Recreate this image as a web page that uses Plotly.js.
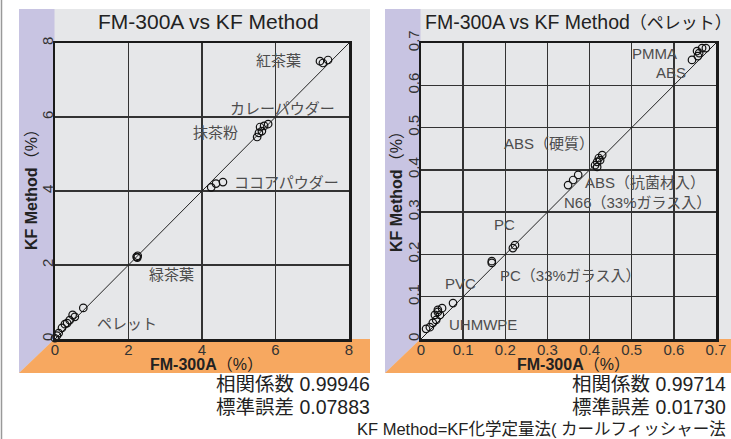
<!DOCTYPE html>
<html>
<head>
<meta charset="utf-8">
<script src="https://cdn.plot.ly/plotly-3.0.1.min.js"></script>
<style>html,body{margin:0;padding:0;background:#fff;}#chart{width:731px;height:439px;}</style>
</head>
<body>
<div id="chart"></div>
<script>
// ---- Left panel data (FM-300A vs KF Method, %) ----
const teaX    = [7.21, 7.43, 7.29];
const teaY    = [7.51, 7.54, 7.46];
const curryX  = [5.80, 5.69, 5.58, 5.63, 5.55, 5.50];
const curryY  = [5.81, 5.76, 5.73, 5.62, 5.57, 5.46];
const cocoaX  = [4.25, 4.38, 4.57];
const cocoaY  = [4.10, 4.20, 4.24];
const greenX  = [2.22, 2.25, 2.24];
const greenY  = [2.22, 2.25, 2.20];
const pelX    = [0.77, 0.54, 0.48, 0.40, 0.33, 0.27, 0.19, 0.10, 0.05, 0.00];
const pelY    = [0.84, 0.60, 0.65, 0.51, 0.43, 0.40, 0.30, 0.16, 0.09, 0.02];

// ---- Right panel data (pellets, %) ----
const pmmaX   = [0.655, 0.667, 0.676, 0.660, 0.643, 0.657];
const pmmaY   = [0.681, 0.688, 0.688, 0.676, 0.660, 0.669];
const absX    = [0.430, 0.422, 0.418, 0.413, 0.418, 0.425, 0.373, 0.361, 0.349];
const absY    = [0.435, 0.428, 0.419, 0.411, 0.407, 0.423, 0.388, 0.376, 0.364];
const pcX     = [0.223, 0.218, 0.168, 0.168];
const pcY     = [0.222, 0.215, 0.184, 0.180];
const pvcX    = [0.076];
const pvcY    = [0.085];
const lowX    = [0.040, 0.033, 0.045, 0.036, 0.028, 0.021, 0.012, 0.050, 0.040];
const lowY    = [0.064, 0.057, 0.057, 0.045, 0.038, 0.028, 0.024, 0.073, 0.069];

const leftRange  = [0, 8];
const rightRange = [0, 0.7];

// labels
const leftLabels = [
  {t:'紅茶葉', x:6.75, y:7.54, a:'right'},
  {t:'カレーパウダー', x:7.67, y:6.24, a:'right'},
  {t:'抹茶粉', x:5.03, y:5.57, a:'right'},
  {t:'ココアパウダー', x:4.82, y:4.24, a:'left'},
  {t:'緑茶葉', x:3.16, y:1.73, a:'center'},
  {t:'ペレット', x:1.96, y:0.43, a:'center'}
];
const rightLabels = [
  {t:'PMMA', x:0.612, y:0.674, a:'right'},
  {t:'ABS', x:0.634, y:0.631, a:'right'},
  {t:'ABS（硬質）', x:0.304, y:0.463, a:'center'},
  {t:'ABS（抗菌材入）', x:0.679, y:0.369, a:'right'},
  {t:'N66（33%ガラス入）', x:0.693, y:0.322, a:'right'},
  {t:'PC', x:0.199, y:0.270, a:'center'},
  {t:'PC（33%ガラス入）', x:0.183, y:0.151, a:'left'},
  {t:'PVC', x:0.093, y:0.132, a:'center'},
  {t:'UHMWPE', x:0.062, y:0.035, a:'left'}
];

const W = 731, H = 439;
const px = v => v / W;
const py = v => 1 - v / H;
const FONT = 'Liberation Sans, Arial, "Noto Sans CJK JP", sans-serif';

const mk = {symbol:'circle-open', size:7.5, color:'#111', line:{width:1.2, color:'#111'}};
function pts(x, y, xa, ya) {
  return {x:x, y:y, xaxis:xa, yaxis:ya, type:'scatter', mode:'markers', marker:mk, cliponaxis:false, hoverinfo:'skip', showlegend:false};
}
const data = [
  {x:leftRange, y:leftRange, xaxis:'x', yaxis:'y', mode:'lines', line:{color:'#222', width:1}, showlegend:false, hoverinfo:'skip'},
  {x:rightRange, y:rightRange, xaxis:'x2', yaxis:'y2', mode:'lines', line:{color:'#222', width:1}, showlegend:false, hoverinfo:'skip'},
  pts(teaX, teaY, 'x', 'y'), pts(curryX, curryY, 'x', 'y'), pts(cocoaX, cocoaY, 'x', 'y'),
  pts(greenX, greenY, 'x', 'y'), pts(pelX, pelY, 'x', 'y'),
  pts(pmmaX, pmmaY, 'x2', 'y2'), pts(absX, absY, 'x2', 'y2'), pts(pcX, pcY, 'x2', 'y2'),
  pts(pvcX, pvcY, 'x2', 'y2'), pts(lowX, lowY, 'x2', 'y2')
];

function axis(dom, range, dtick, anchor, isY) {
  const a = {domain:dom, range:range, dtick:dtick, tick0:0, anchor:anchor,
    showgrid:true, gridcolor:'#333', gridwidth:1.3, zeroline:false,
    showline:true, mirror:true, linecolor:'#1a1a1a', linewidth:2.5,
    ticks:'', tickfont:{family:FONT, size:15, color:'#333'}, fixedrange:true};
  if (isY) { a.tickangle = -90; a.ticklabelstandoff = -6; }
  else { a.ticklabelstandoff = -5; }
  return a;
}

const shapes = [];
function panel(x0, x1, purpleR) {
  shapes.push({type:'rect', xref:'paper', yref:'paper', x0:px(x0), x1:px(x1), y0:py(373), y1:py(9), fillcolor:'#e6e7e9', line:{width:0}, layer:'below'});
  shapes.push({type:'path', xref:'paper', yref:'paper', layer:'below', line:{width:0}, fillcolor:'#c8c4e2',
    path:`M ${px(x0)} ${py(9)} L ${px(purpleR)} ${py(9)} L ${px(purpleR)} ${py(339)} L ${px(x0)} ${py(373)} Z`});
  shapes.push({type:'path', xref:'paper', yref:'paper', layer:'below', line:{width:0}, fillcolor:'#f7a860',
    path:`M ${px(x0)} ${py(373)} L ${px(purpleR)} ${py(339)} L ${px(x1)} ${py(339)} L ${px(x1)} ${py(373)} Z`});
}
panel(19, 370, 54.5);
panel(385, 731, 420.5);
shapes.push({type:'line', xref:'paper', yref:'paper', x0:px(1.5), x1:px(1.5), y0:0, y1:1, line:{color:'#999', width:1.5}, layer:'below'});

const ann = [];
leftLabels.forEach(l => ann.push({text:l.t, x:l.x, y:l.y, xref:'x', yref:'y', xanchor:l.a, yanchor:'middle', showarrow:false, font:{family:FONT, size:15, color:'#4d4d4d'}}));
rightLabels.forEach(l => ann.push({text:l.t, x:l.x, y:l.y, xref:'x2', yref:'y2', xanchor:l.a, yanchor:'middle', showarrow:false, font:{family:FONT, size:15, color:'#4d4d4d'}}));

function pa(text, x, y, xa, size, extra) {
  ann.push(Object.assign({text:text, x:px(x), y:py(y), xref:'paper', yref:'paper', xanchor:xa, yanchor:'middle', showarrow:false, font:{family:FONT, size:size, color:'#222'}}, extra||{}));
}
pa('FM-300A vs KF Method', 208, 22, 'center', 21);
pa('FM-300A vs KF Method<span style="font-size:17px">（ペレット）</span>', 423, 22, 'left', 19.5);
pa('<b>FM-300A</b>（%）', 206, 364, 'center', 16);
pa('<b>FM-300A</b>（%）', 573, 364, 'center', 16);
pa('<b>KF Method</b>（%）', 31, 186, 'center', 16, {textangle:-90});
pa('<b>KF Method</b>（%）', 396, 188, 'center', 16, {textangle:-90});
pa('相関係数 0.99946', 372, 384, 'right', 19.5);
pa('標準誤差 0.07883', 372, 407, 'right', 19.5);
pa('相関係数 0.99714', 728, 384, 'right', 19.5);
pa('標準誤差 0.01730', 728, 407, 'right', 19.5);
pa('KF Method=KF化学定量法( カールフィッシャー法', 728, 429, 'right', 16.5);

const layout = {
  width:W, height:H, margin:{l:0, r:0, t:0, b:0},
  paper_bgcolor:'#ffffff', plot_bgcolor:'rgba(0,0,0,0)',
  showlegend:false,
  font:{family:FONT, color:'#222'},
  xaxis: axis([px(55), px(349)], leftRange, 2, 'y', false),
  yaxis: axis([py(339), py(43)], leftRange, 2, 'x', true),
  xaxis2: axis([px(421), px(716)], rightRange, 0.1, 'y2', false),
  yaxis2: axis([py(339), py(43)], rightRange, 0.1, 'x2', true),
  shapes:shapes, annotations:ann
};
Plotly.newPlot('chart', data, layout, {displayModeBar:false, staticPlot:true});
</script>
</body>
</html>
